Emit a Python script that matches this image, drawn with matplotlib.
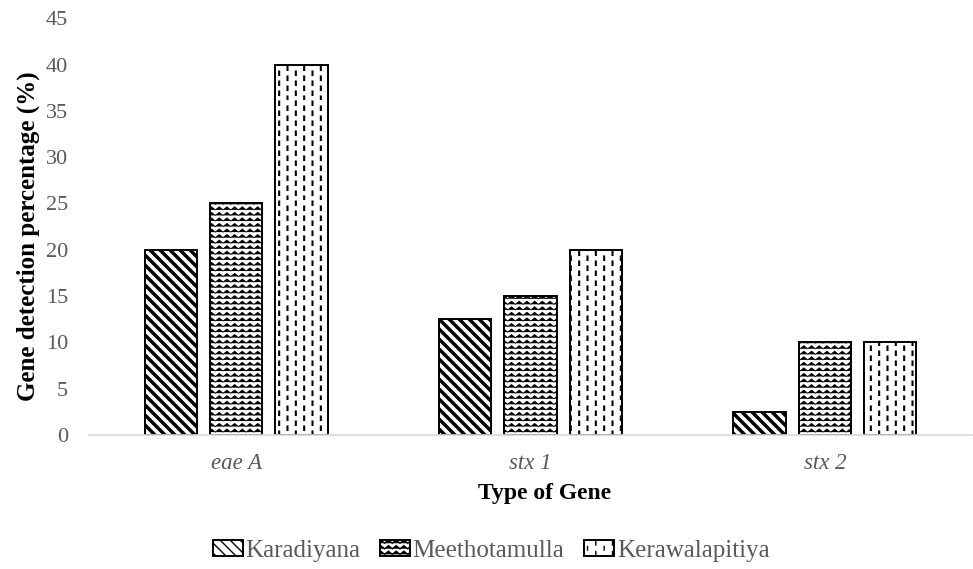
import warnings
import numpy as np
import matplotlib
matplotlib.use("Agg")
import matplotlib.hatch as mhatch
from matplotlib.path import Path
from matplotlib import pyplot as plt

warnings.filterwarnings("ignore")

genes = ["eae A", "stx 1", "stx 2"]
sites = ["Karadiyana", "Meethotamulla", "Kerawalapitiya"]
karadiyana = [20, 12.5, 2.5]
meethotamulla = [25, 15, 10]
kerawalapitiya = [40, 20, 10]


# extra hatch patterns, drawn in the unit hatch tile:
#   'd' = wide falling diagonals, 'z' = zigzag rows, ':' = staggered dashes
class DiagonalHatch(mhatch.HatchPatternBase):
    def __init__(self, hatch, density):
        self.n = hatch.count('d') * 5
        self.num_vertices = (2 * self.n + 1) * 2 if self.n else 0

    def set_vertices_and_codes(self, vertices, codes):
        offs = np.linspace(-1.0, 1.0, 2 * self.n + 1)
        for i, o in enumerate(offs):
            # segment of the line x + y = 1 + o, clipped to the unit square
            if o < 0:
                p0, p1 = (0.0, 1.0 + o), (1.0 + o, 0.0)
            else:
                p0, p1 = (o, 1.0), (1.0, o)
            vertices[2 * i] = p0
            vertices[2 * i + 1] = p1
            codes[2 * i] = Path.MOVETO
            codes[2 * i + 1] = Path.LINETO


class ZigzagHatch(mhatch.HatchPatternBase):
    def __init__(self, hatch, density):
        self.rows = hatch.count('z') * 6
        self.zigs = 13
        self.num_vertices = self.rows * (2 * self.zigs + 1)

    def set_vertices_and_codes(self, vertices, codes):
        n = 2 * self.zigs + 1
        xs = np.linspace(0, 1, n)
        amp = 0.28 / max(self.rows, 1)
        for i in range(self.rows):
            y0 = (i + 0.5) / self.rows
            ys = y0 + amp * np.where(np.arange(n) % 2 == 0, -1, 1)
            vertices[i * n:(i + 1) * n, 0] = xs
            vertices[i * n:(i + 1) * n, 1] = ys
            codes[i * n] = Path.MOVETO
            codes[i * n + 1:(i + 1) * n] = Path.LINETO


class DashHatch(mhatch.HatchPatternBase):
    def __init__(self, hatch, density):
        self.cols = hatch.count(':') * 6
        self.dashes = 10
        self.num_vertices = self.cols * self.dashes * 2

    def set_vertices_and_codes(self, vertices, codes):
        k = 0
        step = 1.0 / self.dashes
        for c in range(self.cols):
            x = (c + 0.5) / self.cols
            off = 0.5 * step if c % 2 else 0.0
            for d in range(self.dashes):
                y0 = d * step + off
                y1 = min(y0 + 0.35 * step, 1.0)
                vertices[k] = (x, y0)
                vertices[k + 1] = (x, y1)
                codes[k] = Path.MOVETO
                codes[k + 1] = Path.LINETO
                k += 2


mhatch._hatch_types.extend([DiagonalHatch, ZigzagHatch, DashHatch])

plt.rcParams['font.family'] = ['Liberation Serif', 'DejaVu Serif']

fig = plt.figure(figsize=(9.73, 5.69), dpi=100)
ax = fig.add_axes([0.0915, 0.2355, 0.9075, 0.7325])

x = np.arange(len(genes))
w = 0.177
step = 0.222
styles = [
    (karadiyana, 'dd', 2.5, '#000000'),
    (meethotamulla, 'zzz', 0.6, '#666666'),
    (kerawalapitiya, '::', 1.5, '#2a2a2a'),
]
handles = []
for i, (vals, hatch, hlw, hcol) in enumerate(styles):
    with plt.rc_context({'hatch.linewidth': hlw, 'hatch.color': hcol}):
        bars = ax.bar(x + (i - 1) * step, vals, w, color='white',
                      edgecolor='black', linewidth=1.4, hatch=hatch,
                      label=sites[i])
        for b in bars:
            if hasattr(b, 'set_hatch_linewidth'):
                b.set_hatch_linewidth(hlw)
    handles.append(bars)

ax.set_xlim(-0.5, 2.5)
ax.set_ylim(0, 45)
ax.set_yticks(range(0, 50, 5))
ax.set_xticks(x)
ax.set_xticklabels(genes, fontstyle='italic', fontsize=16.5)
ax.tick_params(axis='both', length=0, labelcolor='#595959')
ax.tick_params(axis='y', pad=15, labelsize=16)
ax.tick_params(axis='x', pad=13)
for s in ['top', 'right', 'left']:
    ax.spines[s].set_visible(False)
ax.spines['bottom'].set_color('#d9d9d9')
ax.spines['bottom'].set_linewidth(1.2)

ax.set_xlabel('Type of Gene', fontsize=17, fontweight='bold')
ax.set_ylabel('Gene detection percentage (%)', fontsize=18, fontweight='bold')
ax.xaxis.set_label_coords(0.516, -0.114)
ax.yaxis.set_label_coords(-0.0555, 0.477)

fig.legend(handles=handles, labels=sites, loc='center', ncol=3,
           bbox_to_anchor=(491 / 973, 1 - 551 / 569), frameon=False,
           fontsize=18, labelcolor='#595959', handlelength=1.2,
           handleheight=0.6, handletextpad=0.1, columnspacing=0.8)

fig.savefig('out.png', dpi=100)
